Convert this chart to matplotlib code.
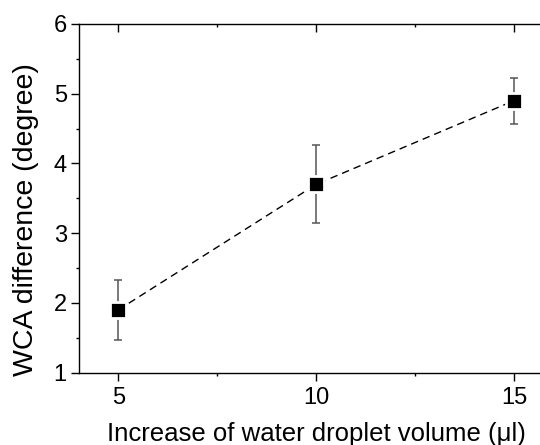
import matplotlib
matplotlib.use("Agg")
import matplotlib.pyplot as plt
from matplotlib.ticker import MultipleLocator

plt.rcParams['font.family'] = ['Liberation Sans', 'DejaVu Sans']

volume = [5, 10, 15]
wca_diff = [1.9, 3.7, 4.9]
wca_err = [0.43, 0.56, 0.33]

fig = plt.figure(figsize=(5.4, 4.45), dpi=100)
ax = fig.add_axes([0.1457, 0.1625, 0.8794, 0.7836])

ax.errorbar(volume, wca_diff, yerr=wca_err, fmt='none', ecolor='#555555',
            elinewidth=1.1, capsize=3, capthick=1.1, zorder=2)
ax.plot(volume, wca_diff, linestyle=(0, (5.4, 3.6)), color='black', linewidth=1.0, zorder=1)
ax.plot(volume, wca_diff, linestyle='none', marker='s', markersize=11.4,
        markerfacecolor='black', markeredgecolor='white', markeredgewidth=2, zorder=3)

ax.set_xlim(4, 16)
ax.set_ylim(1, 6)
ax.xaxis.set_major_locator(MultipleLocator(5))
ax.xaxis.set_minor_locator(MultipleLocator(2.5))
ax.yaxis.set_major_locator(MultipleLocator(1))
ax.yaxis.set_minor_locator(MultipleLocator(0.5))

ax.tick_params(which='both', direction='out', labelsize=17, width=1, top=True)
ax.tick_params(which='major', length=5.5)
ax.tick_params(which='minor', length=2.5)
ax.tick_params(axis='x', which='major', pad=5)
ax.tick_params(axis='y', which='major', pad=3)
# top ticks point inward
for t in ax.xaxis.get_ticklines(minor=False)[1::2] + ax.xaxis.get_ticklines(minor=True)[1::2]:
    t.set_marker(3)

for s in ax.spines.values():
    s.set_linewidth(1.0)

ax.set_xlabel('Increase of water droplet volume (μl)', fontsize=18.5, labelpad=9.5)
ax.set_ylabel('WCA difference (degree)', fontsize=20.5)
ax.yaxis.set_label_coords(-0.084, 0.44)

fig.savefig('out.png', dpi=100)
